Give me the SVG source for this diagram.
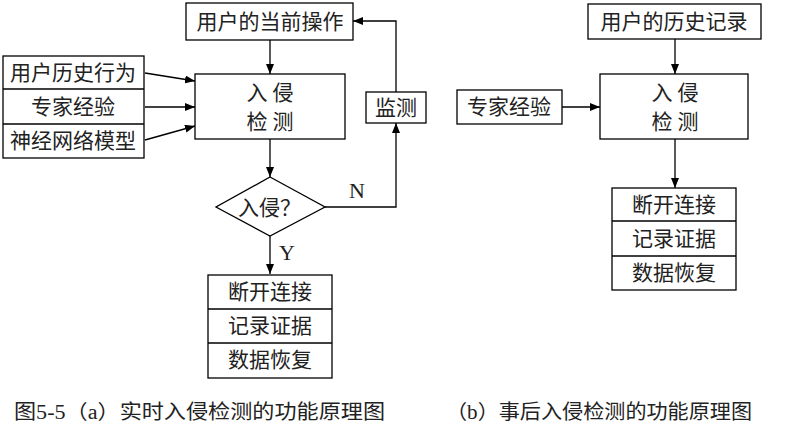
<svg xmlns="http://www.w3.org/2000/svg" width="796" height="440" viewBox="0 0 796 440">
<style>
.b{fill:#fff;stroke:#000;stroke-width:1.3}
.l{fill:none;stroke:#000;stroke-width:1.3}
.t{font-family:"Liberation Serif","Noto Sans CJK SC",serif;font-size:21px;font-weight:normal;fill:#222;text-anchor:middle}
.c{font-family:"Liberation Serif","Noto Sans CJK SC",serif;font-size:20px;font-weight:normal;fill:#222}
</style>
<defs>
<marker id="ah" markerWidth="10" markerHeight="8" refX="10" refY="4" orient="auto" markerUnits="userSpaceOnUse">
<path d="M0,0 L10,4 L0,8 Z" fill="#000"/>
</marker>
</defs>
<rect width="796" height="440" fill="#fff"/>

<g id="conn">
<line class="l" x1="270" y1="40" x2="270" y2="74" marker-end="url(#ah)"/>
<line class="l" x1="145" y1="73" x2="195" y2="81" marker-end="url(#ah)"/>
<line class="l" x1="145" y1="107" x2="195" y2="107" marker-end="url(#ah)"/>
<line class="l" x1="145" y1="140" x2="195" y2="126" marker-end="url(#ah)"/>
<line class="l" x1="270" y1="139" x2="270" y2="177" marker-end="url(#ah)"/>
<polyline class="l" points="325,207 396,207 396,123" marker-end="url(#ah)"/>
<polyline class="l" points="396,92 396,21 353,21" marker-end="url(#ah)"/>
<line class="l" x1="270" y1="236" x2="270" y2="274" marker-end="url(#ah)"/>
<text class="t" x="357" y="198" style="font-size:22px">N</text>
<text class="t" x="287" y="260" style="font-size:22px">Y</text>
<line class="l" x1="675" y1="39" x2="675" y2="74" marker-end="url(#ah)"/>
<line class="l" x1="562" y1="107" x2="600" y2="107" marker-end="url(#ah)"/>
<line class="l" x1="675" y1="139" x2="675" y2="188" marker-end="url(#ah)"/>
</g>

<g id="a-current">
<rect class="b" x="186" y="3" width="167" height="37"/>
<text class="t" x="270" y="29">用户的当前操作</text>
</g>
<g id="a-inputs">
<rect class="b" x="3" y="56" width="141" height="102"/>
<line class="l" x1="3" y1="89" x2="144" y2="89"/>
<line class="l" x1="3" y1="124" x2="144" y2="124"/>
<text class="t" x="73" y="80">用户历史行为</text>
<text class="t" x="73" y="114">专家经验</text>
<text class="t" x="73" y="148">神经网络模型</text>
</g>
<g id="a-detect">
<rect class="b" x="195" y="74" width="150" height="65"/>
<text class="t" x="270" y="100">入 侵</text>
<text class="t" x="270" y="129">检 测</text>
</g>
<g id="a-monitor">
<rect class="b" x="366" y="92" width="60" height="31"/>
<text class="t" x="396" y="115">监测</text>
</g>
<g id="a-decision">
<polygon class="b" points="270,177 325,207 270,236 216,207"/>
<text class="t" x="238" y="215" style="text-anchor:start">入侵？</text>
</g>
<g id="a-actions">
<rect class="b" x="208" y="275" width="124" height="103"/>
<line class="l" x1="208" y1="309" x2="332" y2="309"/>
<line class="l" x1="208" y1="343" x2="332" y2="343"/>
<text class="t" x="270" y="299">断开连接</text>
<text class="t" x="270" y="333">记录证据</text>
<text class="t" x="270" y="367">数据恢复</text>
</g>

<g id="b-history">
<rect class="b" x="588" y="4" width="173" height="35"/>
<text class="t" x="674" y="29">用户的历史记录</text>
</g>
<g id="b-expert">
<rect class="b" x="457" y="90" width="105" height="34"/>
<text class="t" x="509" y="114">专家经验</text>
</g>
<g id="b-detect">
<rect class="b" x="600" y="74" width="148" height="65"/>
<text class="t" x="675" y="100">入 侵</text>
<text class="t" x="675" y="129">检 测</text>
</g>
<g id="b-actions">
<rect class="b" x="612" y="188" width="124" height="102"/>
<line class="l" x1="612" y1="221" x2="736" y2="221"/>
<line class="l" x1="612" y1="256" x2="736" y2="256"/>
<text class="t" x="674" y="212">断开连接</text>
<text class="t" x="674" y="246">记录证据</text>
<text class="t" x="674" y="280">数据恢复</text>
</g>

<g id="captions">
<text class="c" x="14" y="419" textLength="371" lengthAdjust="spacingAndGlyphs">图5-5（a）实时入侵检测的功能原理图</text>
<text class="c" x="446" y="419" textLength="306" lengthAdjust="spacingAndGlyphs">（b）事后入侵检测的功能原理图</text>
</g>
</svg>
